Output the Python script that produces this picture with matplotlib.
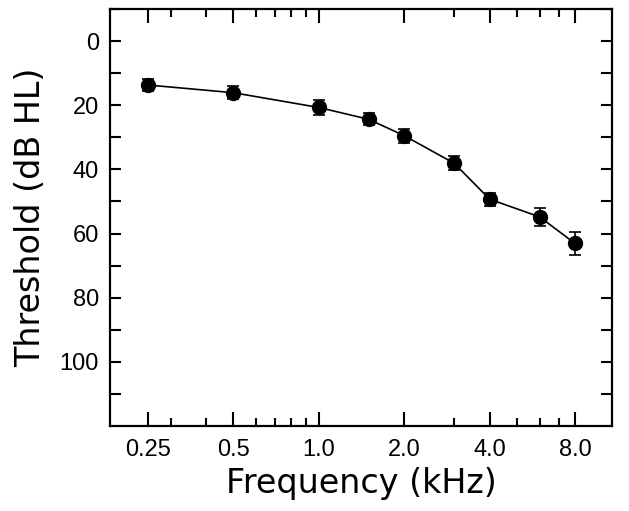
import matplotlib
matplotlib.use("Agg")
import matplotlib.pyplot as plt
from matplotlib.ticker import FixedLocator, NullFormatter

freqs = [0.25, 0.5, 1.0, 1.5, 2.0, 3.0, 4.0, 6.0, 8.0]
thresholds = [13.7, 16.1, 20.7, 24.4, 29.5, 38.1, 49.3, 54.8, 63.1]
errors = [1.9, 2.0, 2.2, 1.9, 2.2, 2.2, 2.0, 2.7, 3.6]

major_x = [0.25, 0.5, 1.0, 2.0, 4.0, 8.0]
major_x_labels = ["0.25", "0.5", "1.0", "2.0", "4.0", "8.0"]
minor_x = [0.3, 0.4, 0.6, 0.7, 0.8, 0.9, 3.0, 5.0, 6.0, 7.0]
major_y = [0, 20, 40, 60, 80, 100]
minor_y = [-10, 10, 30, 50, 70, 90, 110]

plt.rcParams['font.family'] = ['Liberation Sans', 'DejaVu Sans']

fig = plt.figure(figsize=(6.29, 5.11), dpi=100)
ax = fig.add_axes([0.1749, 0.1663, 0.973 - 0.1749, 0.9824 - 0.1663])

ax.errorbar(freqs, thresholds, yerr=errors, fmt='o-', color='black',
            markersize=10, linewidth=1.2, elinewidth=1.2, capsize=4, capthick=1.2)

ax.set_xscale('log')
ax.set_xlim(0.1835, 10.8)
ax.set_ylim(120, -10)

ax.xaxis.set_major_locator(FixedLocator(major_x))
ax.set_xticklabels(major_x_labels)
ax.xaxis.set_minor_locator(FixedLocator(minor_x))
ax.xaxis.set_minor_formatter(NullFormatter())
ax.yaxis.set_major_locator(FixedLocator(major_y))
ax.yaxis.set_minor_locator(FixedLocator(minor_y))

ax.tick_params(axis='both', which='both', direction='in', top=True, right=True,
               width=1.5, labelsize=17)
ax.tick_params(axis='x', which='major', length=10, pad=9)
ax.tick_params(axis='x', which='minor', length=6)
ax.tick_params(axis='y', which='both', length=8, pad=8)

for s in ax.spines.values():
    s.set_linewidth(1.6)

ax.set_xlabel('Frequency (kHz)', fontsize=24, labelpad=5,
              family=['DejaVu Sans'])
ax.set_ylabel('Threshold (dB HL)', fontsize=24, labelpad=9,
              family=['DejaVu Sans'])

fig.savefig('out.png', dpi=100)
